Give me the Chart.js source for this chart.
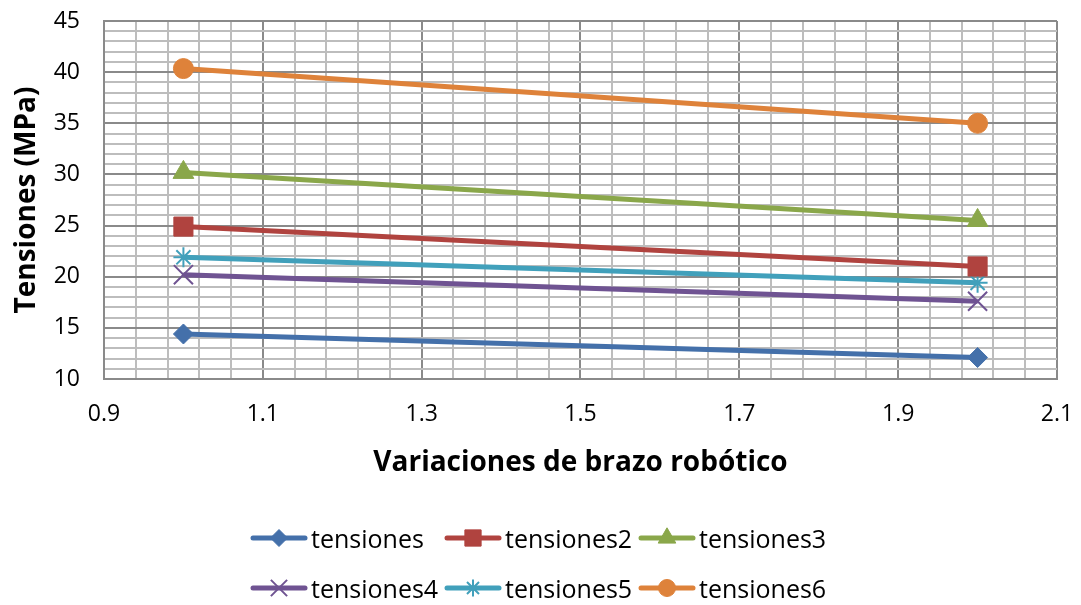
<!DOCTYPE html>
<html>
<head>
<meta charset="utf-8">
<script src="https://cdn.jsdelivr.net/npm/chart.js@4.4.0/dist/chart.umd.min.js"></script>
<style>
  html, body { margin: 0; padding: 0; background: #fff; }
  #wrap { width: 1081px; height: 605px; }
</style>
</head>
<body>
<div id="wrap"><canvas id="myChart" width="1081" height="605"></canvas></div>
<script>
var ctx = document.querySelector('#myChart');

// readings
const armVariations = [1, 2];
const tensiones  = [14.4, 12.1];
const tensiones2 = [24.9, 21.0];
const tensiones3 = [30.2, 25.5];
const tensiones4 = [20.2, 17.6];
const tensiones5 = [21.9, 19.4];
const tensiones6 = [40.35, 35.0];
const seriesNames = ['tensiones', 'tensiones2', 'tensiones3', 'tensiones4', 'tensiones5', 'tensiones6'];

const X_MIN = 0.9, X_MAX = 2.1, X_MINOR = 0.04;
const Y_MIN = 10, Y_MAX = 45, Y_MINOR = 1;

const FONT = "'Open Sans', 'Liberation Sans', sans-serif";

function toPoints(values){
  return values.map((v, i) => ({x: armVariations[i], y: v}));
}

function makeDataset(label, values, color, style, radius, borderWidth){
  return {
    label: label,
    data: toPoints(values),
    borderColor: color,
    backgroundColor: color,
    borderWidth: 5,
    pointStyle: style,
    pointRadius: radius,
    pointHoverRadius: radius,
    pointBorderColor: color,
    pointBackgroundColor: color,
    pointBorderWidth: borderWidth,
    tension: 0
  };
}

const datasets = [
  makeDataset(seriesNames[0], tensiones,  '#4470AA', 'rectRot',   10,   1),
  makeDataset(seriesNames[1], tensiones2, '#B0433F', 'rect',      13.5, 1),
  makeDataset(seriesNames[2], tensiones3, '#8AA74A', 'triangle',  12,   1),
  makeDataset(seriesNames[3], tensiones4, '#6F5392', 'crossRot',  13.5, 2),
  makeDataset(seriesNames[4], tensiones5, '#41A0BB', 'star',      10,   2),
  makeDataset(seriesNames[5], tensiones6, '#DE823A', 'circle',    10,   1)
];

// legend drawn in 3 columns x 2 rows under the axis title
const gridLegend = {
  id: 'gridLegend',
  afterDraw(chart){
    const c = chart.ctx;
    c.save();
    chart.data.datasets.forEach((ds, i) => {
      const col = i % 3, row = Math.floor(i / 3);
      const x0 = 251 + col * 194;
      const yLine = 538 + row * 50;
      c.strokeStyle = ds.borderColor;
      c.lineWidth = 5;
      c.lineCap = 'round';
      c.beginPath();
      c.moveTo(x0 + 2, yLine);
      c.lineTo(x0 + 54, yLine);
      c.stroke();
      c.fillStyle = ds.borderColor;
      c.lineWidth = ds.pointBorderWidth;
      c.lineCap = 'butt';
      Chart.helpers.drawPoint(c, {
        pointStyle: ds.pointStyle,
        radius: ds.pointRadius * 0.85,
        borderWidth: ds.pointBorderWidth,
        rotation: 0
      }, x0 + 28, yLine);
      c.fillStyle = '#000';
      c.font = '25px ' + FONT;
      c.textAlign = 'left';
      c.textBaseline = 'alphabetic';
      c.fillText(ds.label, x0 + 60, yLine + 10);
    });
    c.restore();
  }
};

const gridColor = (c) => c.index % 5 === 0 ? '#8a8a8a' : '#bdbdbd';

var tensionChart = new Chart(ctx, {
  type: 'line',
  data: { datasets: datasets },
  plugins: [gridLegend],
  options: {
    responsive: false,
    animation: false,
    layout: { padding: { left: 0, right: 24, top: 21, bottom: 116 } },
    plugins: {
      legend: { display: false },
      tooltip: { enabled: false }
    },
    scales: {
      x: {
        type: 'linear',
        min: X_MIN,
        max: X_MAX,
        afterFit: (scale) => { scale.height = 110; },
        ticks: {
          stepSize: X_MINOR,
          autoSkip: false,
          maxRotation: 0,
          minRotation: 0,
          padding: 0,
          color: '#000',
          font: { family: FONT, size: 23 },
          callback: (value, index) => index % 5 === 0 ? value.toFixed(1) : ''
        },
        grid: {
          drawTicks: true,
          tickLength: 22,
          tickColor: 'rgba(0,0,0,0)',
          lineWidth: 2,
          color: gridColor
        },
        border: { color: '#8a8a8a', width: 2 },
        title: {
          display: true,
          text: 'Variaciones de brazo robótico',
          color: '#000',
          font: { family: FONT, size: 28, weight: 'bold' },
          padding: { top: 0, bottom: 9 }
        }
      },
      y: {
        min: Y_MIN,
        max: Y_MAX,
        afterFit: (scale) => { scale.width = 104; },
        ticks: {
          stepSize: Y_MINOR,
          autoSkip: false,
          padding: 0,
          color: '#000',
          font: { family: FONT, size: 23 },
          callback: (value, index) => index % 5 === 0 ? value : ''
        },
        grid: {
          drawTicks: true,
          tickLength: 24,
          tickColor: 'rgba(0,0,0,0)',
          lineWidth: 2,
          color: gridColor
        },
        border: { color: '#8a8a8a', width: 2 },
        title: {
          display: true,
          text: 'Tensiones (MPa)',
          color: '#000',
          font: { family: FONT, size: 28, weight: 'bold' },
          padding: { top: 10, bottom: 0 }
        }
      }
    }
  }
});
</script>
</body>
</html>
